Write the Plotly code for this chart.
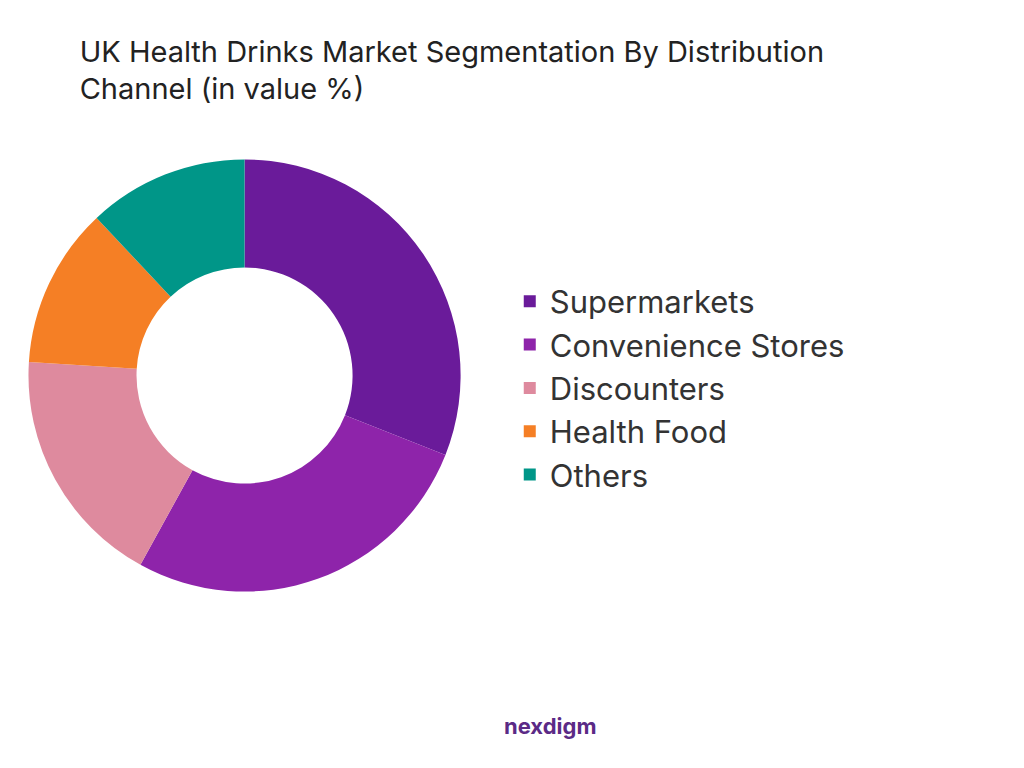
import plotly.graph_objects as go

labels = ["Supermarkets", "Convenience Stores", "Discounters", "Health Food", "Others"]
values = [31, 27, 18, 12, 12]
colors = ["#6A1B9A", "#8E24AA", "#DE8A9E", "#F57F25", "#009688"]

fig = go.Figure(go.Pie(
    labels=labels, values=values, hole=0.5, sort=False, direction="clockwise",
    rotation=0, marker=dict(colors=colors), textinfo="none",
    domain=dict(x=[0.02, 0.442], y=[0.24, 0.803])
))
fig.update_layout(
    width=1024, height=768, paper_bgcolor="white", plot_bgcolor="white",
    margin=dict(l=0, r=0, t=0, b=0),
    title=dict(text="UK Health Drinks Market Segmentation By Distribution<br>Channel (in value %)",
               x=0.07, y=0.93, xanchor="left", yanchor="top",
               font=dict(family="Inter", size=29, color="#222")),
    legend=dict(x=0.49, y=0.505, yanchor="middle", xanchor="left",
                font=dict(family="Inter", size=31, color="#333"), itemsizing="constant",
                tracegroupgap=0, itemwidth=30),
    annotations=[dict(text="<b>nexdigm</b>", x=0.53, y=0.045, xref="paper", yref="paper",
                      showarrow=False, font=dict(family="Inter", size=22, color="#5b2a86"))]
)
fig.write_html("out.html")
